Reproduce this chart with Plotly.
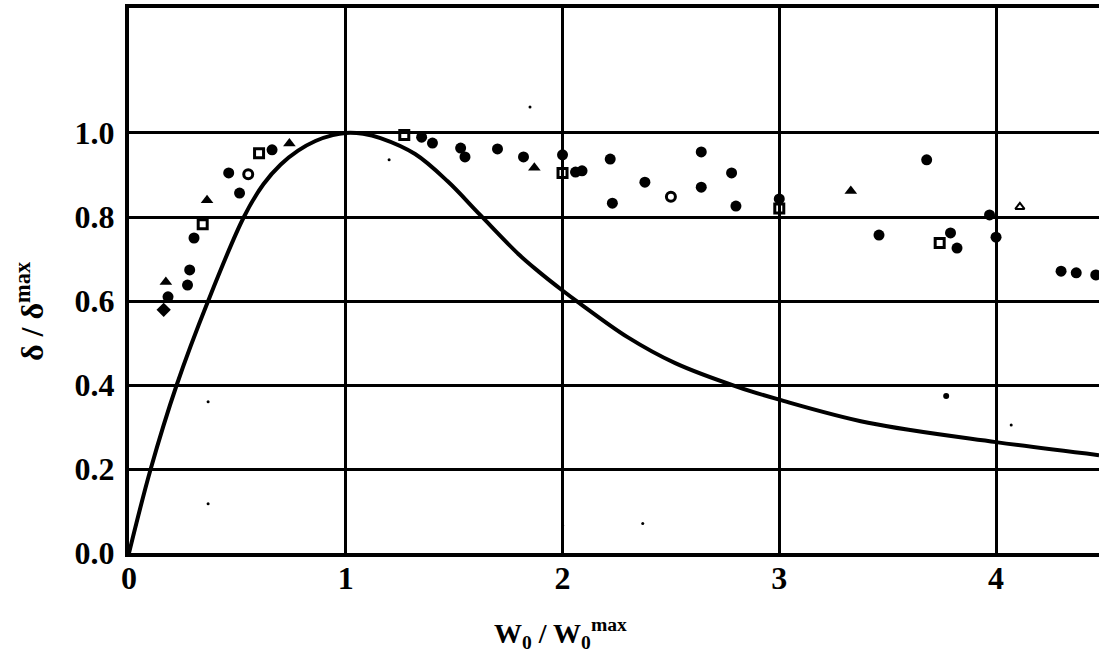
import plotly.graph_objects as go

# theoretical curve
curve_x = [0, 0.10, 0.22, 0.365, 0.53, 0.62, 0.70, 0.78, 0.86, 0.94, 1.0, 1.08, 1.16, 1.32,
           1.47, 1.62, 1.80, 1.89, 2.0, 2.07, 2.30, 2.52, 2.81, 3.0, 3.41, 4.0, 4.475]
curve_y = [0, 0.20, 0.40, 0.60, 0.80, 0.878, 0.925, 0.958, 0.981, 0.995, 1.0, 0.998, 0.988, 0.950,
           0.885, 0.805, 0.71, 0.67, 0.625, 0.598, 0.514, 0.452, 0.395, 0.365, 0.31, 0.264, 0.233]

# experimental points (by marker kind)
filled_x = [0.46, 0.51, 0.30, 0.28, 0.27, 0.18, 0.66, 1.35, 1.40, 1.53, 1.55, 1.70, 1.82,
            2.0, 2.06, 2.09, 2.22, 2.38, 2.23, 2.64, 2.64, 2.78, 2.80, 3.0, 3.68, 3.46,
            3.79, 3.82, 3.97, 4.0, 4.30, 4.37, 4.46]
filled_y = [0.905, 0.857, 0.75, 0.674, 0.638, 0.61, 0.96, 0.99, 0.976, 0.964, 0.943, 0.962,
            0.943, 0.948, 0.907, 0.91, 0.938, 0.883, 0.833, 0.955, 0.871, 0.905, 0.826, 0.843,
            0.936, 0.757, 0.762, 0.726, 0.805, 0.752, 0.671, 0.667, 0.662]
osq_x = [0.60, 0.34, 1.27, 2.0, 3.74, 3.0]
osq_y = [0.952, 0.783, 0.995, 0.905, 0.738, 0.82]
ocir_x = [0.55, 2.50]
ocir_y = [0.902, 0.848]
tri_x = [0.36, 1.87, 0.74, 0.17, 3.33]
tri_y = [0.84, 0.917, 0.975, 0.645, 0.862]
dia_x = [0.16]
dia_y = [0.579]
caret_x = [4.11]
caret_y = [0.824]
speck_x = [0.365, 0.365, 1.85, 1.20, 2.0, 2.37, 4.07]
speck_y = [0.36, 0.117, 1.062, 0.936, 0.066, 0.07, 0.305]
small_x = [3.77]
small_y = [0.374]

x_ticks = [0, 1, 2, 3, 4]
y_ticks = [0.0, 0.2, 0.4, 0.6, 0.8, 1.0]
y_ticktext = ["0.0", "0.2", "0.4", "0.6", "0.8", "1.0"]

FONT = "Liberation Serif"
TICKFONT = dict(family=FONT, size=32, color="black", weight="bold")
fig = go.Figure()
fig.add_trace(go.Scatter(x=curve_x, y=curve_y, mode="lines",
                         line=dict(color="black", width=4, shape="spline", smoothing=1.0)))
fig.add_trace(go.Scatter(x=filled_x, y=filled_y, mode="markers",
                         marker=dict(symbol="circle", size=11, color="black")))
fig.add_trace(go.Scatter(x=osq_x, y=osq_y, mode="markers",
                         marker=dict(symbol="square-open", size=9, color="black", line=dict(width=3))))
fig.add_trace(go.Scatter(x=ocir_x, y=ocir_y, mode="markers",
                         marker=dict(symbol="circle-open", size=9, color="black", line=dict(width=3))))
fig.add_trace(go.Scatter(x=tri_x, y=tri_y, mode="markers",
                         marker=dict(symbol="triangle-up", size=11, color="black")))
fig.add_trace(go.Scatter(x=dia_x, y=dia_y, mode="markers",
                         marker=dict(symbol="diamond", size=11, color="black")))
fig.add_trace(go.Scatter(x=caret_x, y=caret_y, mode="markers",
                         marker=dict(symbol="triangle-up-open", size=8, color="black", line=dict(width=2))))
fig.add_trace(go.Scatter(x=speck_x, y=speck_y, mode="markers",
                         marker=dict(symbol="circle", size=3, color="black")))
fig.add_trace(go.Scatter(x=small_x, y=small_y, mode="markers",
                         marker=dict(symbol="circle", size=6, color="black")))

fig.update_layout(
    width=1099, height=656,
    margin=dict(l=129, r=0, t=8, b=103),
    paper_bgcolor="white", plot_bgcolor="white",
    showlegend=False,
    font=dict(family=FONT, color="black", size=26),
    xaxis=dict(range=[0, 4.475], tickvals=x_ticks, ticktext=[str(v) for v in x_ticks],
               showgrid=True, gridcolor="black", gridwidth=3, zeroline=False,
               showline=True, linecolor="black", linewidth=4, mirror=True,
               ticks="", ticklabelstandoff=-6, tickfont=TICKFONT),
    yaxis=dict(range=[0, 1.2976], tickvals=y_ticks, ticktext=y_ticktext,
               showgrid=True, gridcolor="black", gridwidth=3, zeroline=False,
               showline=True, linecolor="black", linewidth=4,
               ticks="", ticklabelstandoff=4, tickfont=TICKFONT),
    annotations=[
        dict(text="δ / δ<sup>max</sup>", xref="paper", yref="paper",
             x=(30 - 129) / 970, y=(553 - 311) / 545, textangle=-90,
             xanchor="center", yanchor="middle", showarrow=False,
             font=dict(family=FONT, size=32, color="black", weight="bold")),
        dict(text="W<sub>0</sub> / W<sub>0</sub><sup>max</sup>", xref="paper", yref="paper",
             x=(560 - 129) / 970, y=(553 - 633) / 545,
             xanchor="center", yanchor="middle", showarrow=False,
             font=dict(family=FONT, size=28, color="black", weight="bold")),
    ],
)
fig.write_html("out.html")
